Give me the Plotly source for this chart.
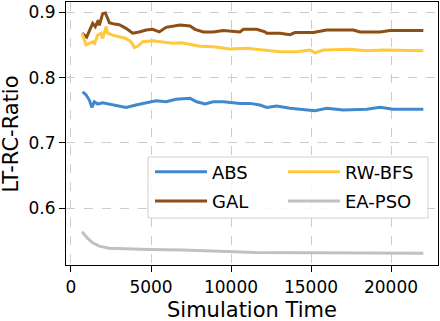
import plotly.graph_objects as go

# ABS
abs_t = [730, 940, 1145, 1310, 1455, 1665, 1980, 2395, 2810, 3440, 4060, 4690, 5310, 5940,
         6560, 7440, 7855, 8375, 8895, 9520, 10560, 11190, 11810, 12230, 12855, 13690,
         14520, 15250, 15980, 17020, 18480, 19310, 20145, 22020]
abs_ratio = [0.7784, 0.7734, 0.7657, 0.7545, 0.7631, 0.7596, 0.7616, 0.7596, 0.758, 0.7545,
             0.758, 0.7616, 0.7646, 0.7631, 0.7668, 0.7683, 0.7631, 0.7596, 0.7631, 0.7631,
             0.7606, 0.7606, 0.758, 0.7545, 0.7565, 0.753, 0.7515, 0.7493, 0.753, 0.7504,
             0.7515, 0.7545, 0.7515, 0.7515]

# GAL
gal_t = [690, 980, 1355, 1520, 1710, 1770, 1980, 2145, 2290, 2395, 2710, 3020, 3440, 3855,
         4270, 4690, 5100, 5520, 5940, 6355, 6810, 7440, 7750, 8270, 8895, 9520, 10560,
         10770, 11605, 12125, 12230, 13060, 13690, 14000, 15145, 15980, 17645, 18060,
         19310, 19940, 22020]
gal_ratio = [0.868, 0.862, 0.883, 0.878, 0.888, 0.880, 0.898, 0.899, 0.891, 0.884, 0.882,
             0.881, 0.8755, 0.868, 0.870, 0.873, 0.874, 0.870, 0.877, 0.879, 0.8805, 0.879,
             0.874, 0.870, 0.870, 0.872, 0.870, 0.874, 0.874, 0.870, 0.868, 0.868, 0.8657,
             0.869, 0.869, 0.873, 0.873, 0.870, 0.870, 0.872, 0.872]

# RW-BFS
rw_t = [690, 830, 940, 1145, 1355, 1480, 1665, 1875, 1980, 2190, 2290, 2605, 3020, 3440,
        3750, 3960, 4170, 4480, 5100, 5730, 6355, 6915, 7440, 8060, 8895, 9940, 10980,
        12230, 13060, 14105, 14940, 15250, 15770, 17440, 18480, 19520, 22020]
rw_ratio = [0.868, 0.8576, 0.850, 0.8525, 0.855, 0.8525, 0.865, 0.868, 0.860, 0.878, 0.868,
            0.865, 0.8627, 0.860, 0.855, 0.846, 0.848, 0.855, 0.8565, 0.855, 0.8525, 0.8535,
            0.851, 0.848, 0.8473, 0.8438, 0.845, 0.8412, 0.8397, 0.8397, 0.8423, 0.838,
            0.8423, 0.8433, 0.841, 0.8423, 0.841]

# EA-PSO
ea_t = [690, 1045, 1355, 1770, 2395, 3230, 4895, 6980, 9895, 11560, 15000, 22020]
ea_ratio = [0.564, 0.5539, 0.5472, 0.5421, 0.539, 0.538, 0.537, 0.536, 0.5334, 0.5325,
            0.532, 0.531]

x_ticks = [0, 5000, 10000, 15000, 20000]
y_ticks = [0.6, 0.7, 0.8, 0.9]

# name, x, y, colour, which legend column
series = [
    ("ABS", abs_t, abs_ratio, "#4288cd", "legend"),
    ("GAL", gal_t, gal_ratio, "#8c4f16", "legend"),
    ("RW-BFS", rw_t, rw_ratio, "#ffc83d", "legend2"),
    ("EA-PSO", ea_t, ea_ratio, "#c0c0c0", "legend2"),
]

fig = go.Figure()
for name, t, r, color, leg in series:
    fig.add_trace(go.Scatter(
        x=t, y=r, name=name, mode="lines",
        line=dict(color=color, width=3),
        legend=leg, legendgroup=name,
    ))

axis_common = dict(
    showline=True, mirror=True, linecolor="black", linewidth=1.2,
    ticks="outside", ticklen=6, tickwidth=1.2, tickcolor="black",
    showgrid=True, gridcolor="#cccccc", griddash="dash", gridwidth=1,
    zeroline=False, tickfont=dict(size=17, color="black"), automargin=False,
)

# two legends side by side = the two columns of the reference legend
leg_common = dict(
    orientation="v", xanchor="left", yanchor="top", y=0.424,
    bgcolor="rgba(0,0,0,0)", borderwidth=0, font=dict(size=18),
    traceorder="grouped", tracegroupgap=3, itemwidth=52,
)

fig.update_layout(
    width=440, height=321,
    margin=dict(l=66, r=2, t=2, b=56),
    paper_bgcolor="white", plot_bgcolor="white",
    font=dict(family="DejaVu Sans", color="black"),
    xaxis=dict(axis_common, range=[-312, 22937], tickvals=x_ticks,
               ticktext=[str(v) for v in x_ticks]),
    yaxis=dict(axis_common, range=[0.5132, 0.9158], tickvals=y_ticks,
               ticktext=[f"{v:.1f}" for v in y_ticks]),
    legend=dict(leg_common, x=0.2258),
    legend2=dict(leg_common, x=0.5833),
    shapes=[dict(type="rect", xref="paper", yref="paper", layer="above",
                 x0=0.2204, x1=0.9731, y0=0.1787, y1=0.4106,
                 fillcolor="rgba(255,255,255,0.85)", line=dict(color="#d0d0d0", width=1))],
    annotations=[
        dict(text="Simulation Time", xref="paper", yref="paper", x=0.5, y=-0.171,
             xanchor="center", yanchor="middle", showarrow=False, font=dict(size=21)),
        dict(text="LT-RC-Ratio", xref="paper", yref="paper", x=-0.148, y=0.5,
             xanchor="center", yanchor="middle", textangle=-90, showarrow=False,
             font=dict(size=21)),
    ],
)

fig.write_html("out.html", config={"displayModeBar": False},
               post_script="document.body.style.margin='0';")
